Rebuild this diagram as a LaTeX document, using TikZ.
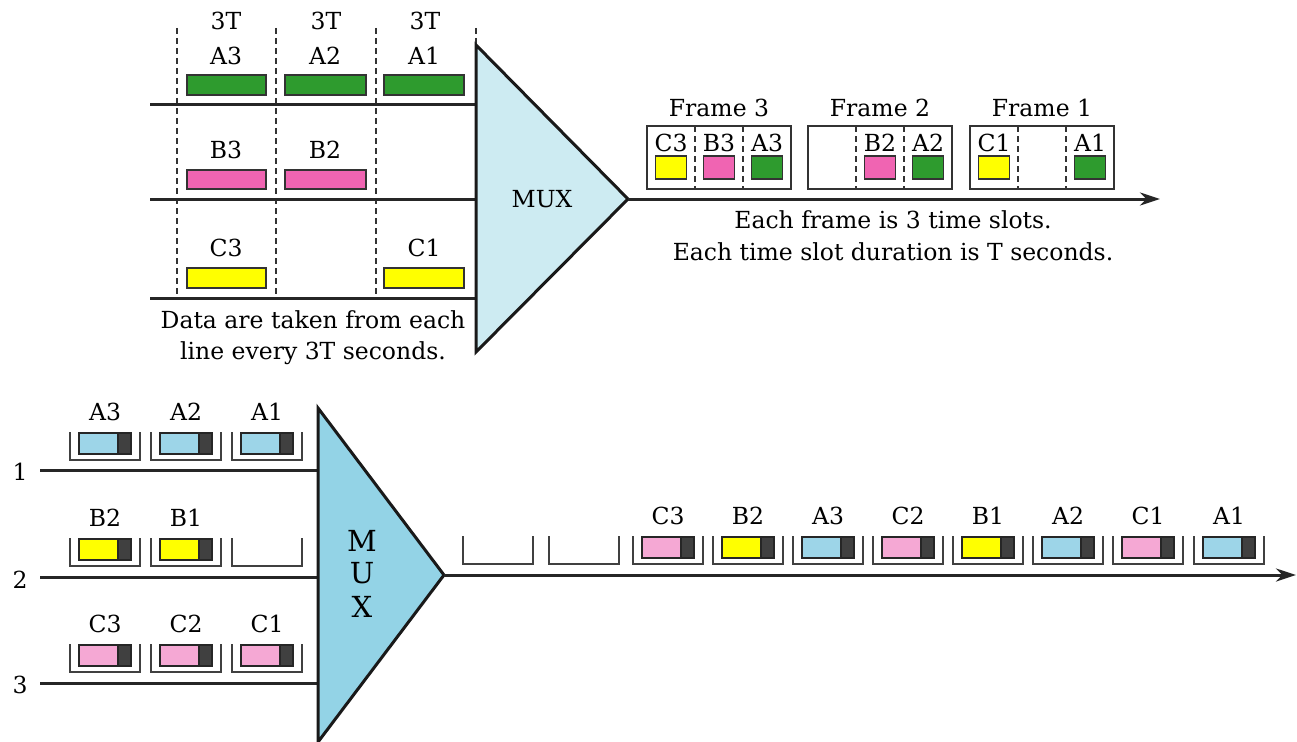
\documentclass[tikz,border=0pt]{standalone}
\usepackage{fontspec}
\setmainfont{DejaVu Serif}
\usetikzlibrary{arrows.meta}
\definecolor{gbar}{HTML}{2E9B2E}
\definecolor{pbar}{HTML}{F064B2}
\definecolor{ybar}{HTML}{FFFF00}
\definecolor{muxtop}{HTML}{CDEBF2}
\definecolor{muxbot}{HTML}{93D3E6}
\definecolor{cbin}{HTML}{9DD5E8}
\definecolor{pbin}{HTML}{F5A8D4}
\definecolor{dbin}{HTML}{404040}
\tikzset{
  mainline/.style={line width=3pt, draw=black!85},
  dsh/.style={line width=1.6pt, draw=black!80, dash pattern=on 6pt off 4pt},
  barbox/.style={draw=black!80, line width=1.7pt},
  binline/.style={draw=black!75, line width=1.6pt},
  innerbox/.style={draw=black!85, line width=1.5pt},
  lbl/.style={inner sep=0pt, font=\fontsize{23.5}{26}\selectfont},
  muxshape/.style={draw=black!90, line width=3pt, line join=miter},
}
\newcommand{\emptybin}[2]{%
  \draw[binline] (#1,#2-28) -- (#1,#2) -- (#1+70,#2) -- (#1+70,#2-28);}
\newcommand{\fullbin}[5]{%
  \emptybin{#2}{#3}
  \draw[innerbox, fill=#4] (#2+9,#3-27) rectangle (#2+48,#3-6);
  \draw[innerbox, fill=dbin] (#2+48,#3-27) rectangle (#2+61,#3-6);
  \node[lbl] (#1) at (#2+35,#3-48) {#5};}
\begin{document}
\begin{tikzpicture}[x=1pt,y=-1pt]
\useasboundingbox (0,0) rectangle (1297,741);
% ---------------- top part ----------------
\foreach \x/\n in {177/d1,276/d2,376/d3}{
  \coordinate (\n t) at (\x,28); \coordinate (\n b) at (\x,298);
  \draw[dsh] (\n t) -- (\n b);}
\coordinate (d4t) at (476,28); \coordinate (d4b) at (476,45);
\draw[dsh] (d4t) -- (d4b);
\foreach \x/\n in {226/t1,326/t2,425/t3}{\node[lbl] (\n) at (\x,21) {3T};}
% row A
\node[lbl] (la3) at (226,56) {A3};
\node[lbl] (la2) at (325,56) {A2};
\node[lbl] (la1) at (424,56) {A1};
\draw[barbox, fill=gbar] (187,75) rectangle (266,95);
\draw[barbox, fill=gbar] (285,75) rectangle (366,95);
\draw[barbox, fill=gbar] (384,75) rectangle (464,95);
% row B
\node[lbl] (lb3) at (226,150) {B3};
\node[lbl] (lb2) at (325,150) {B2};
\draw[barbox, fill=pbar] (187,170) rectangle (266,189);
\draw[barbox, fill=pbar] (285,170) rectangle (366,189);
% row C
\node[lbl] (lc3) at (226,248) {C3};
\node[lbl] (lc1) at (424,248) {C1};
\draw[barbox, fill=ybar] (187,268) rectangle (266,288);
\draw[barbox, fill=ybar] (384,268) rectangle (464,288);
% lines
\foreach \y/\n in {105/1,199/2,298/3}{
  \coordinate (in\n) at (150,\y); \coordinate (mi\n) at (476,\y);
  \draw[mainline] (in\n) -- (mi\n);}
\node[lbl, anchor=base] (data1) at (313,328) {Data are taken from each};
\node[lbl, anchor=base] (data2) at (313,359) {line every 3T seconds.};
% top mux
\coordinate (mta) at (476,45); \coordinate (mtb) at (476,352); \coordinate (mtc) at (628,199);
\draw[muxshape, fill=muxtop] (mta) -- (mtb) -- (mtc) -- cycle;
\node[lbl] (muxt) at (542,199) {MUX};
\coordinate (outt) at (1160,199);
\draw[mainline, -{Stealth[length=20pt,width=13pt]}] (mtc) -- (outt);
% frames
\foreach \x/\f in {647/3,808/2,970/1}{
  \draw[line width=1.6pt, draw=black!80] (\x,126) rectangle (\x+144,189);
  \draw[dsh] (\x+48,126) -- (\x+48,189);
  \draw[dsh] (\x+96,126) -- (\x+96,189);
  \node[lbl] (fr\f) at (\x+72,108) {Frame \f};}
\newcommand{\slot}[4]{%
  \node[lbl] (#1) at (#2,143) {#4};
  \draw[barbox, fill=#3] (#2-15.5,156) rectangle (#2+15.5,179);}
\slot{f3c}{671}{ybar}{C3}
\slot{f3b}{719}{pbar}{B3}
\slot{f3a}{767}{gbar}{A3}
\slot{f2b}{880}{pbar}{B2}
\slot{f2a}{928}{gbar}{A2}
\slot{f1c}{994}{ybar}{C1}
\slot{f1a}{1090}{gbar}{A1}
\node[lbl, anchor=base] (each1) at (893,228) {Each frame is 3 time slots.};
\node[lbl, anchor=base] (each2) at (893,260) {Each time slot duration is T seconds.};
% ---------------- bottom part ----------------
\coordinate (mba) at (318,408); \coordinate (mbb) at (318,742); \coordinate (mbc) at (444,575);
\foreach \y/\n in {470/1,577/2,683/3}{
  \coordinate (bin\n) at (40,\y); \coordinate (bmi\n) at (318,\y);
  \draw[mainline] (bin\n) -- (bmi\n);}
\node[lbl] (n1) at (20,472) {1};
\node[lbl] (n2) at (20,580) {2};
\node[lbl] (n3) at (20,685) {3};
\fullbin{ba3}{70}{460}{cbin}{A3}
\fullbin{ba2}{151}{460}{cbin}{A2}
\fullbin{ba1}{232}{460}{cbin}{A1}
\fullbin{bb2}{70}{566}{ybar}{B2}
\fullbin{bb1}{151}{566}{ybar}{B1}
\emptybin{232}{566}
\fullbin{bc3}{70}{672}{pbin}{C3}
\fullbin{bc2}{151}{672}{pbin}{C2}
\fullbin{bc1}{232}{672}{pbin}{C1}
\draw[muxshape, fill=muxbot] (mba) -- (mbb) -- (mbc) -- cycle;
\node[lbl, font=\fontsize{29}{32}\selectfont] (mm) at (362,541) {M};
\node[lbl, font=\fontsize{29}{32}\selectfont] (mu) at (362,573) {U};
\node[lbl, font=\fontsize{29}{32}\selectfont] (mx) at (362,607) {X};
\coordinate (outb) at (1296,575);
\draw[mainline, -{Stealth[length=20pt,width=13pt]}] (mbc) -- (outb);
\emptybin{463}{564}
\emptybin{549}{564}
\fullbin{oc3}{633}{564}{pbin}{C3}
\fullbin{ob2}{713}{564}{ybar}{B2}
\fullbin{oa3}{793}{564}{cbin}{A3}
\fullbin{oc2}{873}{564}{pbin}{C2}
\fullbin{ob1}{953}{564}{ybar}{B1}
\fullbin{oa2}{1033}{564}{cbin}{A2}
\fullbin{oc1}{1113}{564}{pbin}{C1}
\fullbin{oa1}{1194}{564}{cbin}{A1}
\end{tikzpicture}
\end{document}
